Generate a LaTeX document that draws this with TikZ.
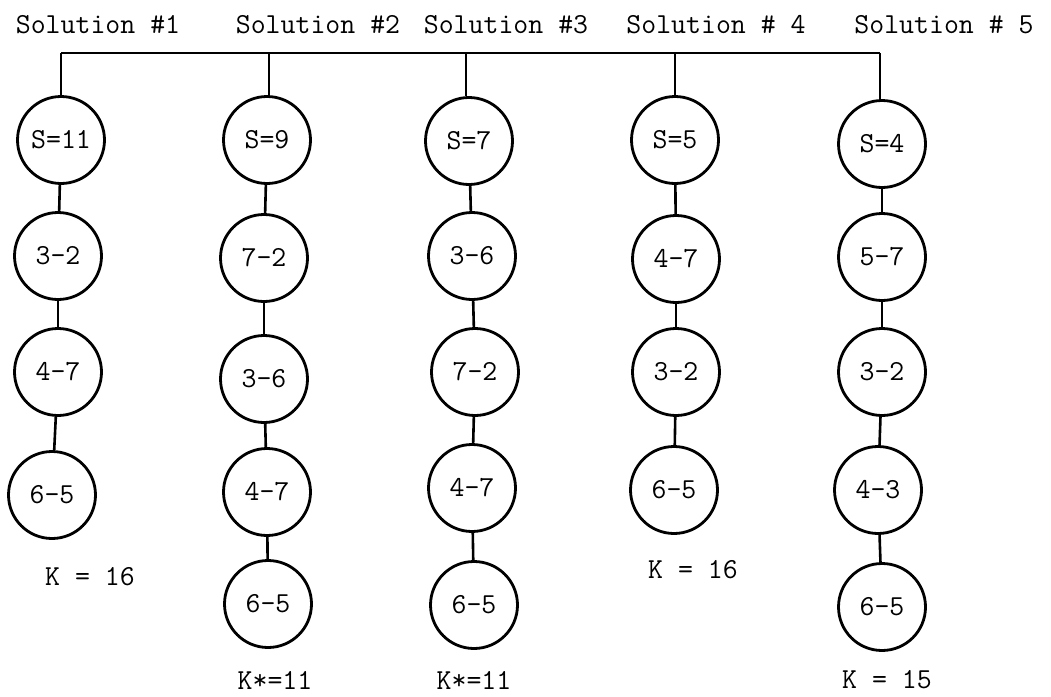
\documentclass[tikz,border=0pt]{standalone}
\usepackage{fontspec}
\begin{document}
\begin{tikzpicture}[x=1pt,y=-1pt,
  typed/.style={font=\ttfamily\fontsize{29}{33}\selectfont},
  move/.style={typed,circle,draw,line width=2.8pt,minimum size=87pt,inner sep=0pt},
  title/.style={typed,anchor=base},
  result/.style={typed},
  link/.style={line width=2.6pt},
  bar/.style={line width=2.2pt}]
\useasboundingbox (0,0) rectangle (1051,696);

% headings
\node[title] (h1) at (98,33)  {Solution \#1};
\node[title] (h2) at (318,33) {Solution \#2};
\node[title] (h3) at (506,33) {Solution \#3};
\node[title] (h4) at (716,33) {Solution \# 4};
\node[title] (h5) at (944,33) {Solution \# 5};

% branch points on the common bar
\coordinate (t1) at (61,53);
\coordinate (t2) at (269,53);
\coordinate (t3) at (466,53);
\coordinate (t4) at (675,53);
\coordinate (t5) at (880,53);

% solution 1
\node[move] (a1) at (61,140) {S=11};
\node[move] (a2) at (58,256) {3-2};
\node[move] (a3) at (58,372) {4-7};
\node[move] (a4) at (52,495) {6-5};
\node[result] (ka) at (90,577) {K = 16};

% solution 2
\node[move] (b1) at (267,140) {S=9};
\node[move] (b2) at (264,258) {7-2};
\node[move] (b3) at (264,379) {3-6};
\node[move] (b4) at (267,492) {4-7};
\node[move] (b5) at (268,604) {6-5};
\node[result] (kb) at (275,680) {K*=11};

% solution 3
\node[move] (c1) at (469,141) {S=7};
\node[move] (c2) at (472,256) {3-6};
\node[move] (c3) at (475,372) {7-2};
\node[move] (c4) at (472,488) {4-7};
\node[move] (c5) at (474,605) {6-5};
\node[result] (kc) at (474,680) {K*=11};

% solution 4
\node[move] (d1) at (675,140) {S=5};
\node[move] (d2) at (676,259) {4-7};
\node[move] (d3) at (676,372) {3-2};
\node[move] (d4) at (674,490) {6-5};
\node[result] (kd) at (693,570) {K = 16};

% solution 5
\node[move] (e1) at (882,144) {S=4};
\node[move] (e2) at (882,257) {5-7};
\node[move] (e3) at (882,372) {3-2};
\node[move] (e4) at (878,490) {4-3};
\node[move] (e5) at (882,607) {6-5};
\node[result] (ke) at (887,680) {K = 15};

% bar and drops
\draw[bar] (t1) -- (t5);
\draw[link] (t1) -- (t1 |- a1.north);
\draw[link] (t2) -- (t2 |- b1.north);
\draw[link] (t3) -- (t3 |- c1.north);
\draw[link] (t4) -- (t4 |- d1.north);
\draw[link] (t5) -- (t5 |- e1.north);

% chains
\draw[link] (a1) -- (a2);
\draw[link] (a2) -- (a3);
\draw[link] (a3) -- (a4);
\draw[link] (b1) -- (b2);
\draw[link] (b2) -- (b3);
\draw[link] (b3) -- (b4);
\draw[link] (b4) -- (b5);
\draw[link] (c1) -- (c2);
\draw[link] (c2) -- (c3);
\draw[link] (c3) -- (c4);
\draw[link] (c4) -- (c5);
\draw[link] (d1) -- (d2);
\draw[link] (d2) -- (d3);
\draw[link] (d3) -- (d4);
\draw[link] (e1) -- (e2);
\draw[link] (e2) -- (e3);
\draw[link] (e3) -- (e4);
\draw[link] (e4) -- (e5);
\end{tikzpicture}
\end{document}
